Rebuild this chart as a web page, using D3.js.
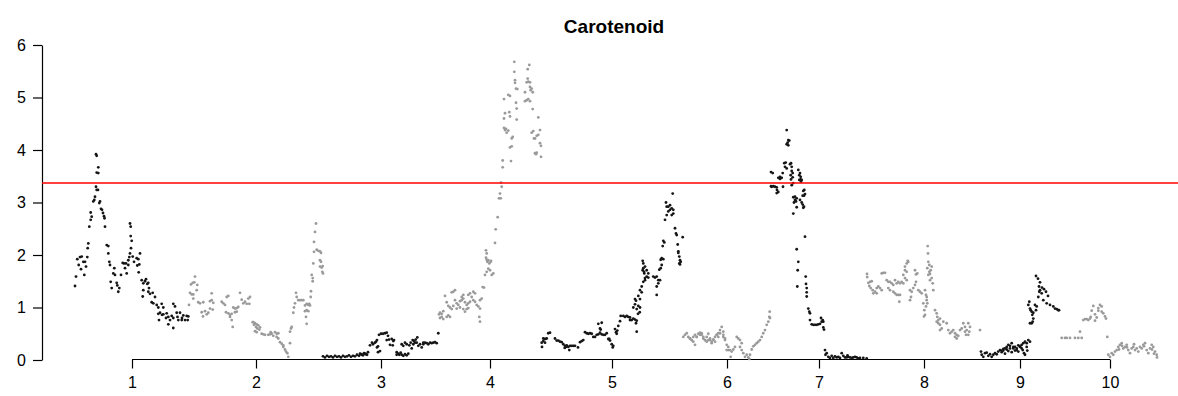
<!DOCTYPE html>
<html>
<head>
<meta charset="utf-8">
<script src="https://cdn.jsdelivr.net/npm/d3@7"></script>
<style>
  html, body { margin: 0; padding: 0; background: #fff; }
  svg { display: block; font-family: "Liberation Sans", Arial, Helvetica, sans-serif; }
</style>
</head>
<body>
<svg id="chart" width="1178" height="396"></svg>
<script>
// LOD profile for the carotenoid trait across ten chromosomes
const title = "Carotenoid";
const chromosomes = ["1", "2", "3", "4", "5", "6", "7", "8", "9", "10"];
const chromLengths = [114, 134, 116, 102, 142, 88, 96, 114, 78, 102];
const yTicks = [0, 1, 2, 3, 4, 5, 6];
const threshold = 3.37;

// [position within chromosome, LOD]
const chr1 = [
  [0,1.41],[1,1.59],[2.3,1.92],[3.7,1.81],[5,1.96],[6,1.73],[6.7,1.97],[8.3,1.87],[9.3,1.62],[10,1.87],
  [11,1.78],[12.3,1.96],[12.7,2.13],[13.3,2.22],[14.3,2.54],[15.7,2.67],[16.7,2.73],[15.7,2.81],[18.3,3.02],[19.3,3.05],
  [20,3.11],[21,3.30],[21.7,3.24],[23,3.24],[21,3.92],[21.7,3.89],[23.3,3.67],[21.7,3.57],[23.3,3.56],[24.3,2.99],
  [25,3.02],[26,2.88],[27,2.86],[28,2.80],[29,2.74],[29.5,2.70],[30,2.54],[31.7,2.19],[33.3,2.17],[33.3,2.03],
  [34.3,1.87],[35,1.81],[35.7,1.49],[36.7,1.37],[38.3,1.65],[40,1.62],[39.3,1.75],[41.7,1.47],[42.3,1.42],[43.3,1.30],
  [44.3,1.37],[46,1.62],[47.7,1.85],[49,1.84],[50,1.75],[51.7,1.65],[51,1.84],[53.3,1.90],[55,2.60],[55.7,2.54],
  [55.7,2.36],[56.7,2.27],[55,2.03],[56,2.13],[54.3,1.96],[53.3,1.81],[57.7,1.97],[59,1.87],[61.7,1.94],[63.3,1.92],
  [65,2.03],[62.3,1.80],[64.3,1.82],[63.7,1.67],[66.7,1.52],[68.3,1.46],[70,1.50],[71,1.54],[72.3,1.45],[73.3,1.47],
  [68.3,1.33],[67.7,1.21],[74,1.37],[73.3,1.30],[75,1.26],[77.7,1.28],[80,1.20],[76.7,1.10],[78.3,1.08],[81.7,1.05],
  [83.3,1.00],[86.7,1.07],[88.3,1.00],[85,0.90],[83.3,0.88],[87,0.86],[88.3,0.87],[91.7,0.89],[91,0.80],[93.3,0.82],
  [95,0.76],[98.3,0.80],[84,0.76],[93.3,0.68],[98.3,0.61],[98.3,1.07],[100,1.02],[101.7,0.90],[105,0.90],[108.3,0.85],
  [111.7,0.84],[113.3,0.83],[103.3,0.76],[106.7,0.76],[110,0.76],[112.7,0.76],[96.7,0.84],[102.5,0.82],[107,0.80]
];
const chr2 = [
  [0,1.05],[1,1.28],[2.7,1.25],[4.3,1.25],[2,1.44],[3.7,1.47],[5.3,1.48],[6,1.59],[7.7,1.33],[8.3,1.43],
  [4.3,1.17],[9.3,1.10],[11,1.08],[14.3,1.10],[12.7,0.91],[16,0.93],[17.7,0.87],[19.3,0.90],[14,0.83],[21,1.12],
  [22.7,1.14],[24.3,1.09],[22.7,1.27],[21,0.98],[23.7,0.96],[32.7,1.11],[34.3,1.08],[36,1.05],[37.7,1.20],[39.3,1.22],
  [37,0.91],[39.3,0.89],[41,0.86],[42.7,0.88],[41,0.82],[42.7,0.76],[43.7,0.63],[44.3,1.00],[46,0.98],[47.7,0.99],
  [49.3,1.01],[46,0.91],[47.7,0.92],[51,1.28],[52.7,1.15],[54.3,1.08],[56,1.11],[57.7,1.07],[59.3,1.17],[60.3,1.07],
  [61,1.20],[63.7,0.72],[65,0.67],[67,0.63],[68.3,0.60],[70.3,0.58],[64.3,0.72],[66,0.70],[67.7,0.68],[69.3,0.66],
  [71,0.62],[66,0.55],[67.7,0.53],[72.7,0.50],[74.3,0.49],[76,0.48],[79.3,0.48],[81,0.49],[82.7,0.50],[84.3,0.46],
  [81.7,0.53],[86,0.53],[87.7,0.50],[89.3,0.51],[87.7,0.44],[89.3,0.41],[91,0.34],[92.7,0.31],[94.3,0.28],[94.3,0.25],
  [96,0.20],[97,0.16],[98.3,0.13],[99.3,0.06],[101,0.32],[102,0.60],[102.7,0.63],[101,0.54],[104.3,0.90],[105,1.00],
  [106,1.08],[107,1.28],[107.7,1.20],[109.3,1.14],[111,1.14],[112.7,1.14],[114.3,1.14],[116,1.04],[117.7,1.07],[119.3,1.05],
  [120.3,1.07],[121,1.04],[116,0.93],[117.7,0.95],[119.3,0.93],[117,0.82],[117.7,0.69],[121.7,1.20],[122,1.31],[122.7,1.62],
  [123.7,1.56],[123.7,1.50],[124.3,1.84],[125,2.06],[125,2.25],[126,2.44],[127,2.60],[127.7,2.10],[129.3,2.08],[131,2.07],
  [132,2.04],[131,1.90],[132,1.87],[132.7,1.76],[133.7,1.79],[133.3,1.68],[134,1.65],[131,1.78]
];
const chr3 = [
  [0,0.07],[2,0.05],[4,0.08],[6,0.06],[8,0.07],[10,0.05],[12,0.08],[14,0.06],[16,0.07],[18,0.05],
  [20,0.08],[22,0.06],[24,0.07],[26,0.09],[28,0.06],[30,0.08],[32,0.07],[34,0.10],[36,0.08],[38,0.11],
  [40,0.09],[42,0.12],[44,0.10],[37,0.12],[39,0.10],[41,0.13],[43,0.11],[45,0.15],[47,0.28],[49,0.33],
  [50,0.30],[52,0.33],[53,0.35],[54,0.38],[54,0.24],[55,0.26],[55,0.15],[57,0.17],[56,0.48],[58,0.50],
  [60,0.50],[62,0.51],[63.7,0.52],[65,0.46],[63.7,0.38],[66,0.39],[68.7,0.40],[70.3,0.36],[71,0.38],[67,0.29],
  [69.7,0.28],[73.7,0.15],[75.3,0.12],[76.3,0.10],[77.7,0.14],[73.7,0.10],[78.7,0.10],[80.3,0.08],[82,0.11],[83.7,0.09],
  [85.3,0.12],[78.7,0.30],[80.3,0.27],[82,0.33],[83.7,0.30],[86.3,0.28],[87.7,0.33],[88.7,0.22],[90.3,0.30],[92,0.33],
  [89.7,0.38],[91,0.36],[92.7,0.39],[94.3,0.43],[93.7,0.33],[95.3,0.27],[97,0.30],[98.7,0.24],[100.3,0.30],[100.3,0.33],
  [102,0.33],[103.7,0.32],[105.3,0.30],[107,0.33],[108.7,0.32],[110.3,0.33],[112,0.34],[113.7,0.32],[115.3,0.51]
];
const chr4 = [
  [0,0.87],[1,0.90],[2.7,0.88],[4.3,0.93],[1,0.80],[2.7,0.82],[4.3,0.78],[7.7,0.82],[9.3,0.85],[11,0.82],
  [6,1.22],[7.7,1.10],[9.3,1.03],[11,1.00],[12.7,0.97],[14.3,1.03],[12.7,1.29],[14.3,1.30],[16,1.33],[16,1.14],
  [17.7,1.08],[19.3,1.05],[21,1.12],[22.7,1.14],[24.3,1.17],[26,1.10],[27.7,1.05],[29.3,1.08],[31,1.11],[17.7,0.98],
  [21,1.00],[24.3,0.97],[26,0.92],[22.7,1.20],[24.3,1.24],[29.3,1.24],[31,1.27],[32.7,1.20],[34.3,1.30],[36,1.27],
  [34.3,1.14],[36,1.11],[37.7,1.05],[39.3,1.02],[41,0.98],[41,1.14],[42.7,1.17],[40.3,0.82],[41,0.73],[27.7,0.97],
  [29.3,0.99],[43.7,1.39],[45,1.38],[46,1.62],[47.7,1.68],[49.3,1.74],[51,1.71],[52.7,1.62],[54.3,1.65],[48.3,1.87],
  [50.3,1.84],[51.7,1.87],[47,1.95],[47.7,1.91],[49.3,1.90],[52,1.89],[47,2.09],[47.7,2.03],[56,2.23],[56.7,2.49],
  [58.7,2.72],[60,3.08],[61.7,3.08],[61,3.17],[62,3.38],[62.7,3.30],[63.7,3.67],[63.7,3.80],[66,4.38],[67.7,4.33],
  [65,4.42],[67,4.40],[69.3,4.37],[71,4.05],[72.7,4.07],[72,3.79],[65,4.60],[66,4.70],[70.3,4.72],[71,4.64],
  [65,4.97],[69.3,5.05],[71,5.03],[77.7,4.79],[77,4.90],[77,5.17],[78.3,5.16],[76,5.28],[76,5.33],[75.3,5.49],
  [75.3,5.68],[77.7,4.58],[73.7,4.25],[72.7,4.22],[86,4.93],[87.7,4.95],[89.3,4.97],[91,4.93],[86,5.10],[87.7,5.29],
  [89.3,5.30],[91,5.29],[88.7,5.36],[88.7,5.54],[90.3,5.62],[91,5.20],[92.7,5.17],[93.7,5.10],[91.7,5.14],[93.7,4.78],
  [99.3,4.62],[94.3,4.36],[92.7,4.33],[101,4.38],[99.3,4.29],[97.7,4.27],[96,4.22],[95,4.22],[101,4.13],[102,4.08],
  [96,3.94],[97.7,3.95],[97,3.92],[102,3.87]
];
const chr5 = [
  [0.7,0.33],[2.3,0.36],[4,0.40],[5.7,0.41],[7.3,0.51],[9,0.52],[2.3,0.41],[4,0.33],[1,0.25],[14,0.41],
  [15.7,0.37],[17.3,0.37],[19,0.35],[20.7,0.34],[22.3,0.30],[24,0.27],[25.7,0.28],[27.3,0.25],[29,0.27],[30.7,0.27],
  [32.3,0.27],[28.3,0.19],[23.7,0.23],[25,0.25],[34,0.27],[37,0.24],[39,0.34],[40.7,0.36],[42.3,0.38],[44,0.53],
  [45.7,0.51],[47.3,0.50],[49,0.51],[50.7,0.50],[52.3,0.44],[54,0.44],[55.7,0.48],[57.3,0.49],[59,0.52],[60.7,0.49],
  [62.3,0.48],[57.3,0.69],[59,0.60],[60.7,0.71],[59.7,0.58],[64,0.48],[65.7,0.51],[67.3,0.40],[68.3,0.40],[69,0.37],
  [70.7,0.30],[71.7,0.24],[72.3,0.27],[74,0.59],[75,0.53],[75.7,0.50],[76.3,0.56],[77.3,0.65],[79,0.74],[79.7,0.84],
  [82.3,0.84],[84,0.82],[85.7,0.84],[87.3,0.82],[89,0.81],[89,0.76],[90.7,0.76],[92.3,0.79],[94,0.77],[95.7,0.75],
  [95,0.70],[95.7,0.54],[92.3,1.00],[94,1.06],[95.7,0.97],[97.3,1.03],[99,1.00],[94,1.16],[95,1.13],[97.3,1.22],
  [99,1.16],[100.7,1.29],[97,0.88],[98.7,0.91],[99,1.33],[100.7,1.40],[102.3,1.49],[104,1.52],[105.7,1.59],[107.3,1.57],
  [101.7,1.71],[102.3,1.75],[103.3,1.65],[104,1.56],[101.7,1.89],[102.3,1.84],[104,1.78],[103,1.68],[105.7,1.71],[107.3,1.65],
  [112.3,1.59],[114,1.57],[115.7,1.59],[117.3,1.52],[115.7,1.40],[117.3,1.46],[119,1.52],[115.7,1.24],[118.3,1.72],[119.7,1.75],
  [120.7,1.81],[119.7,1.91],[120.7,1.94],[122.3,1.92],[121.7,2.17],[122.3,2.27],[123.3,2.24],[124,2.67],[125.7,2.76],[127.3,2.83],
  [129,2.86],[130.7,2.89],[132.3,2.86],[125.7,2.92],[125,3.00],[127.3,2.92],[129,2.95],[131.7,3.17],[132.3,2.79],[130.7,2.76],
  [134,2.51],[135,2.41],[135.7,2.38],[136.7,2.20],[137.3,2.07],[137.3,2.04],[138.3,1.97],[139,1.90],[139.7,1.87],[138.3,1.84],
  [139,1.82],[141.7,2.34]
];
const chr6 = [
  [0.3,0.44],[2,0.48],[3.7,0.51],[5.3,0.44],[7,0.41],[8.7,0.38],[10.3,0.44],[12,0.48],[13.7,0.44],[15.3,0.50],
  [17,0.52],[18.7,0.48],[20.3,0.41],[22,0.38],[23.7,0.44],[25.3,0.50],[27,0.38],[28.7,0.32],[30.3,0.39],[32,0.44],
  [33.7,0.48],[35.3,0.44],[37,0.51],[38.7,0.63],[40.3,0.48],[42,0.41],[43.7,0.29],[45.3,0.19],[7,0.41],[8.7,0.38],
  [10.3,0.35],[12,0.29],[13.7,0.44],[17,0.48],[18.7,0.51],[20.3,0.44],[22,0.38],[23.7,0.35],[25.3,0.38],[27,0.41],
  [28.7,0.35],[30.3,0.39],[32,0.35],[33.7,0.48],[35.3,0.51],[37,0.57],[40.3,0.54],[40.3,0.44],[42,0.38],[43.7,0.19],
  [45.3,0.25],[47,0.19],[47.7,0.06],[48.7,0.16],[50.3,0.20],[52,0.25],[53.7,0.44],[55.3,0.41],[57,0.38],[58.7,0.32],
  [57,0.25],[58.7,0.19],[60.3,0.13],[62,0.06],[63.7,0.10],[65.3,0.05],[66.3,0.02],[67,0.10],[68.7,0.20],[70.3,0.26],
  [72,0.29],[73.7,0.32],[75.3,0.35],[77,0.38],[78.7,0.44],[80.3,0.51],[82,0.57],[83.7,0.67],[85.3,0.73],[86.3,0.82],
  [87,0.80],[86.7,0.92]
];
const chr7 = [
  [0,3.58],[1.7,3.56],[0,3.31],[0.7,3.30],[2.3,3.31],[4,3.30],[5.7,3.29],[6,3.24],[7.3,3.20],[5.7,3.18],
  [7.3,3.47],[9,3.45],[10.7,3.47],[9,3.49],[12,3.30],[11.7,3.56],[13.3,3.75],[14.7,3.76],[14,3.68],[15.7,3.65],
  [15.7,4.11],[17.3,4.09],[16.7,4.14],[15.7,4.38],[17.3,4.19],[18.3,4.18],[19,3.73],[20,3.75],[20.7,3.68],[20.7,3.60],
  [21.7,3.56],[19.7,3.52],[21.7,3.48],[20,3.44],[20.7,3.33],[22.3,3.37],[22.3,3.10],[24,3.05],[23,3.00],[25,3.02],
  [24,3.11],[25.7,3.08],[27.3,3.62],[29,3.56],[28.3,3.52],[29.7,3.49],[28.3,3.43],[29.7,3.44],[30.7,3.43],[30,3.40],
  [29,3.05],[30.7,3.00],[31.7,2.96],[32.3,2.90],[33,2.92],[32.3,3.22],[33.3,3.24],[34,3.16],[33,3.13],[31.7,3.13],
  [22.3,2.79],[25.7,2.91],[34,2.35],[25.7,2.11],[27.3,1.87],[26.7,1.71],[26.3,1.40],[34.7,1.59],[35,1.45],[35.7,1.37],
  [35.7,1.29],[35.7,1.21],[37.3,0.98],[38.3,0.92],[39,0.89],[39,0.76],[40.7,0.68],[42.3,0.67],[44,0.67],[45.7,0.67],
  [47.3,0.68],[49,0.69],[50,0.80],[51.7,0.76],[52.3,0.73],[50.7,0.73],[52.3,0.62],[53,0.58],[54,0.19],[55.7,0.13],
  [54.5,0.10],[57.3,0.06],[59,0.04],[62.3,0.04],[65.7,0.05],[69,0.04],[70.7,0.13],[72.3,0.08],[74,0.05],[75.7,0.05],
  [77.3,0.06],[79,0.05],[82.3,0.05],[85.7,0.05],[89,0.04],[92.3,0.04],[95.7,0.03],[60.7,0.08],[64,0.07],[67.3,0.06],
  [76.5,0.09],[80.7,0.04],[84,0.06],[87.3,0.03]
];
const chr8 = [
  [0,1.64],[0.2,1.58],[1.3,1.47],[3,1.49],[4.7,1.50],[2.3,1.41],[3.7,1.37],[5.7,1.33],[8,1.30],[9.7,1.27],
  [6.3,1.27],[11.3,1.40],[13,1.37],[14.7,1.33],[9.7,1.37],[14.7,1.65],[16.3,1.66],[18,1.66],[19.7,1.52],[21.3,1.49],
  [23,1.49],[24.7,1.46],[26.3,1.43],[23,1.33],[21.3,1.37],[26.3,1.30],[28,1.27],[29.7,1.24],[31.3,1.24],[33,1.24],
  [32.3,1.11],[28,1.52],[29.7,1.46],[31.3,1.49],[33,1.46],[34.7,1.49],[36.3,1.46],[36.3,1.62],[38,1.71],[39.7,1.68],
  [38,1.78],[39.7,1.84],[40.7,1.89],[41.3,1.87],[38,1.56],[39.7,1.52],[43,1.14],[44,1.20],[43,1.33],[44.7,1.30],
  [46.3,1.37],[48,1.43],[49,1.49],[48,1.71],[49,1.63],[50.3,1.65],[51.3,1.33],[53,1.30],[54.7,1.27],[56.3,1.08],
  [57.3,0.95],[58,0.86],[57,0.83],[58,1.33],[59,1.24],[59.7,1.14],[60.3,1.08],[59,1.02],[59.7,1.20],[60.7,2.17],
  [61,2.03],[61.3,1.87],[62.3,1.81],[60.3,1.75],[62.3,1.68],[61.3,1.62],[63,1.64],[63.7,1.71],[64.7,1.78],[63,1.52],
  [64.7,1.56],[65.7,1.46],[66.3,1.33],[68,0.95],[69.7,0.89],[70.3,0.82],[71.3,0.76],[73,0.79],[69.7,0.73],[71.3,0.70],
  [73,0.67],[74.7,0.60],[73,0.57],[76.3,0.73],[79.7,0.70],[81.3,0.57],[83,0.51],[84.7,0.54],[86.3,0.57],[88,0.51],
  [89.7,0.48],[91.3,0.46],[88,0.44],[89.7,0.41],[93,0.57],[94.7,0.60],[96.3,0.70],[98,0.63],[99.7,0.57],[101.3,0.70],
  [103,0.63],[102.3,0.54],[101.3,0.48],[98,0.54],[99,0.48],[113,0.57]
];
const chr9 = [
  [0,0.16],[0.7,0.10],[2.3,0.06],[4,0.13],[5.7,0.14],[7.3,0.08],[9,0.11],[10.7,0.06],[12.3,0.10],[14,0.13],
  [15.7,0.11],[17.3,0.16],[19,0.19],[20.7,0.18],[22.3,0.21],[24,0.22],[25.7,0.25],[27.3,0.29],[29,0.27],[30.7,0.32],
  [32.3,0.22],[34,0.25],[35.7,0.19],[37.3,0.16],[39,0.25],[40.7,0.29],[41.7,0.19],[43,0.13],[44,0.10],[45.7,0.32],
  [47.3,0.38],[49,0.35],[20.7,0.15],[22.3,0.18],[24,0.12],[25.7,0.20],[27.3,0.17],[29,0.22],[30.7,0.15],[32.3,0.25],
  [34,0.18],[35.7,0.22],[37.3,0.28],[39,0.26],[40.7,0.22],[42.3,0.32],[44,0.35],[45.7,0.25],[46.3,0.18],[47.3,1.05],
  [48.3,1.11],[49,0.98],[49.7,0.95],[50.7,0.92],[51.3,0.86],[52.3,0.79],[51.7,0.73],[50.7,0.70],[49,0.70],[54,1.05],
  [55.7,1.02],[55,0.95],[52.3,0.90],[57.3,1.20],[58.3,1.30],[59,1.33],[60.7,1.27],[55,1.60],[57,1.55],[59,1.48],
  [58,1.40],[61,1.38],[63,1.35],[65,1.30],[67,1.22],[62.3,1.14],[65.7,1.08],[69,1.05],[72.3,1.02],[74,0.98],
  [75.7,0.97],[77.3,0.95],[78,0.95]
];
const chr10 = [
  [2.7,0.42],[6,0.42],[7.7,0.42],[11,0.42],[16,0.42],[19.3,0.42],[22.7,0.42],[21,0.54],[24.3,0.76],[26,0.78],
  [27.7,0.78],[29.3,0.76],[31,0.79],[31.7,0.82],[32.7,0.94],[34.3,1.03],[36,0.87],[37.7,0.81],[36,0.75],[39.3,0.94],
  [41,1.05],[42.7,1.02],[44.3,0.89],[46,0.83],[47,0.79],[42.7,0.92],[39.3,0.99],[48.3,0.44],[49.3,0.10],[51,0.06],
  [52.7,0.13],[54.3,0.10],[56,0.16],[57.7,0.19],[59.3,0.25],[61,0.29],[62.7,0.32],[64.3,0.22],[66,0.25],[67.7,0.29],
  [69.3,0.19],[71,0.13],[72.7,0.22],[74.3,0.25],[76,0.19],[77.7,0.22],[79.3,0.16],[81,0.25],[82.7,0.22],[84.3,0.29],
  [86,0.32],[87.7,0.19],[89.3,0.13],[91,0.22],[92.7,0.29],[94.3,0.25],[96,0.16],[97.7,0.10],[60,0.20],[63,0.27],
  [68,0.24],[75,0.30],[85,0.26],[93,0.20],[95,0.12],[98,0.05]
];
const lodByChrom = [chr1, chr2, chr3, chr4, chr5, chr6, chr7, chr8, chr9, chr10];

const svg = d3.select("#chart");
const W = 1178, H = 396;

// cumulative chromosome offsets along the genome
const starts = [];
let acc = 0;
chromLengths.forEach(len => { starts.push(acc); acc += len; });
const total = acc;

const x = d3.scaleLinear().domain([0, total]).range([75, 1161]);
const y = d3.scaleLinear().domain([0, 6]).range([360, 45]);

const axisX = 42;      // left edge of the plot frame
const baseY = 359.5;   // bottom axis line

// title
svg.append("text")
  .attr("x", 614).attr("y", 33)
  .attr("text-anchor", "middle")
  .attr("font-weight", "bold")
  .attr("font-size", 19)
  .attr("fill", "#000")
  .text(title);

// y axis
const yAxis = d3.axisLeft(y).tickValues(yTicks).tickFormat(d3.format("d"))
  .tickSize(9).tickSizeOuter(0).tickPadding(7);
const gy = svg.append("g").attr("transform", `translate(${axisX},0)`).call(yAxis);
gy.selectAll("text").attr("font-size", 16).attr("fill", "#000")
  .attr("font-family", "'Liberation Sans', Arial, sans-serif");
gy.selectAll("path, line").attr("stroke", "#000").attr("stroke-width", 1.2);

// x axis with chromosome labels at chromosome midpoints
const mids = chromLengths.map((len, i) => starts[i] + len / 2);
const xAxis = d3.axisBottom(x).tickValues(mids)
  .tickFormat((d, i) => chromosomes[i]).tickSize(9).tickSizeOuter(0).tickPadding(8);
const gx = svg.append("g").attr("transform", `translate(0,${baseY})`).call(xAxis);
gx.select(".domain").remove();
gx.append("line")
  .attr("x1", x(mids[0])).attr("x2", x(mids[mids.length - 1]))
  .attr("y1", 0).attr("y2", 0);
gx.selectAll("text").attr("font-size", 16).attr("fill", "#000")
  .attr("font-family", "'Liberation Sans', Arial, sans-serif");
gx.selectAll("line").attr("stroke", "#000").attr("stroke-width", 1.2);

// markers: alternating black / grey by chromosome
const points = [];
lodByChrom.forEach((arr, i) => {
  arr.forEach(([pos, lod]) => points.push({ chr: i, pos: starts[i] + pos, lod }));
});
svg.append("g").selectAll("circle").data(points).join("circle")
  .attr("cx", d => x(d.pos))
  .attr("cy", d => y(d.lod))
  .attr("r", 1.4)
  .attr("fill", d => d.chr % 2 === 0 ? "#151515" : "#9a9a9a");

// significance threshold
svg.append("line")
  .attr("x1", axisX).attr("x2", W)
  .attr("y1", y(threshold)).attr("y2", y(threshold))
  .attr("stroke", "#ff0000").attr("stroke-width", 1.5);
</script>
</body>
</html>
